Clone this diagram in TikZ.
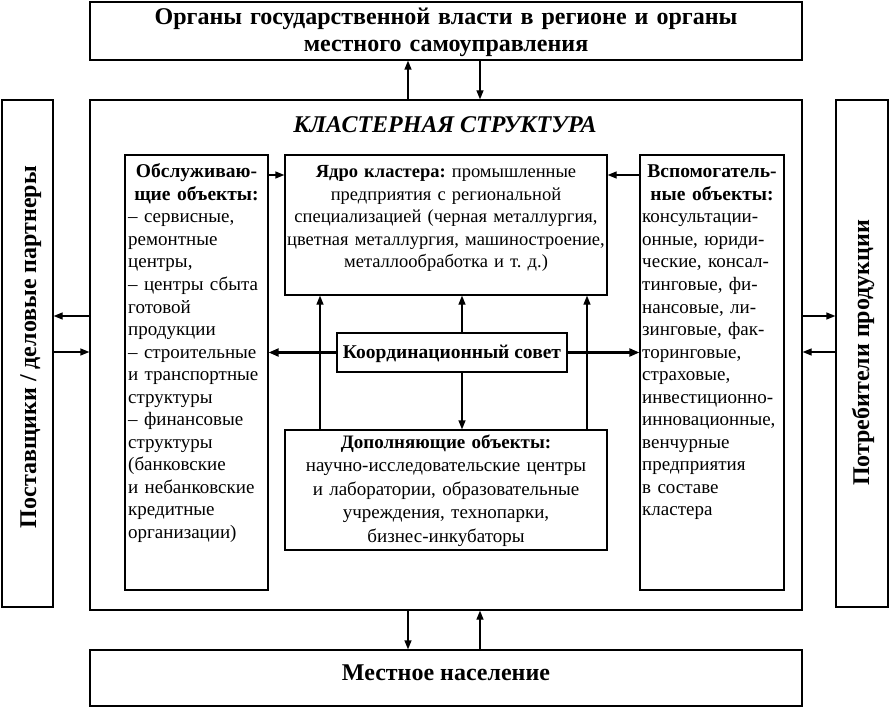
\documentclass[tikz,border=0pt]{standalone}
\usepackage{fontspec}
\setmainfont{Liberation Serif}
\usetikzlibrary{arrows.meta}
\begin{document}
\begin{tikzpicture}[x=1pt,y=-1pt,
  box/.style={draw,line width=1.3pt,inner sep=0pt},
  body/.style={inner sep=0pt,font=\fontsize{19}{22.5}\selectfont},
  head/.style={inner sep=0pt,font=\bfseries\fontsize{19.5}{22.5}\selectfont},
  big/.style={inner sep=0pt,font=\bfseries\fontsize{24}{27}\selectfont},
  arr/.style={line width=1.3pt,-{Triangle[length=9pt,width=7pt]}},
  tarr/.style={line width=2.2pt,-{Triangle[length=10pt,width=8pt]}},
]
\useasboundingbox (0,0) rectangle (890,708);
% boxes
\node[box,minimum width=712pt,minimum height=58pt] (gov) at (446,31) {};
\node[box,minimum width=712pt,minimum height=510pt] (cluster) at (446,355) {};
\node[box,minimum width=51pt,minimum height=507pt] (left) at (27.5,353.5) {};
\node[box,minimum width=52pt,minimum height=507pt] (right) at (862,353.5) {};
\node[box,minimum width=143pt,minimum height=435pt] (serv) at (196.5,372.5) {};
\node[box,minimum width=322pt,minimum height=140pt] (core) at (446,225) {};
\node[box,minimum width=144pt,minimum height=435pt] (aux) at (712,372.5) {};
\node[box,minimum width=230pt,minimum height=39pt] (council) at (452,352.5) {};
\node[box,minimum width=322pt,minimum height=120pt] (compl) at (446,490) {};
\node[box,minimum width=712pt,minimum height=56pt] (pop) at (446,678) {};
% texts
\node[big,text width=700pt,align=center,anchor=base] (govt) at (446,25) {Органы государственной власти в регионе и органы\\местного самоуправления};
\node[big,font=\bfseries\itshape\fontsize{24}{27}\selectfont,anchor=base] (title) at (445,133) {КЛАСТЕРНАЯ СТРУКТУРА};
\node[big,rotate=90,anchor=base] (leftt) at (36,347) {Поставщики / деловые партнеры};
\node[big,rotate=90,anchor=base] (rightt) at (869,353) {Потребители продукции};
\node[big,anchor=base] (popt) at (446,680) {Местное население};
\node[head,anchor=base] (councilt) at (452,358) {Координационный совет};
\node[head,text width=140pt,align=center,anchor=base] (servh) at (196.5,178) {Обслуживаю-\\щие объекты:};
\node[body,text width=140pt,align=left,anchor=base west] (servl) at (128,223) {– сервисные,\\ремонтные\\центры,\\– центры сбыта\\готовой\\продукции\\– строительные\\и транспортные\\структуры\\– финансовые\\структуры\\(банковские\\и небанковские\\кредитные\\организации)};
\node[head,text width=142pt,align=center,anchor=base] (auxh) at (712,178) {Вспомогатель-\\ные объекты:};
\node[body,text width=142pt,align=left,anchor=base west] (auxl) at (642,223) {консультации-\\онные, юриди-\\ческие, консал-\\тинговые, фи-\\нансовые, ли-\\зинговые, фак-\\торинговые,\\страховые,\\инвестиционно-\\инновационные,\\венчурные\\предприятия\\в составе\\кластера};
\node[body,font=\fontsize{18.5}{22.5}\selectfont,text width=340pt,align=center,anchor=base] (coret) at (446,178) {\textbf{Ядро кластера:}~промышленные\\предприятия с региональной\\специализацией (черная металлургия,\\цветная металлургия, машиностроение,\\металлообработка и т.~д.)};
\node[body,font=\fontsize{19}{23.5}\selectfont,text width=340pt,align=center,anchor=base] (complt) at (446,448) {\textbf{Дополняющие объекты:}\\научно-исследовательские центры\\и лаборатории, образовательные\\учреждения, технопарки,\\бизнес-инкубаторы};
% connectors
\draw[arr] (cluster.north -| 408,0) -- (gov.south -| 408,0);
\draw[arr] (gov.south -| 480,0) -- (cluster.north -| 480,0);
\draw[arr] (cluster.south -| 408,0) -- (pop.north -| 408,0);
\draw[arr] (pop.north -| 480,0) -- (cluster.south -| 480,0);
\draw[arr] (cluster.west |- 0,316) -- (left.east |- 0,316);
\draw[arr] (left.east |- 0,352) -- (cluster.west |- 0,352);
\draw[arr] (cluster.east |- 0,316) -- (right.west |- 0,316);
\draw[arr] (right.west |- 0,352) -- (cluster.east |- 0,352);
\draw[arr] (serv.east |- 0,175) -- (core.west |- 0,175);
\draw[arr] (aux.west |- 0,175) -- (core.east |- 0,175);
\draw[arr] (compl.north -| 320,0) -- (core.south -| 320,0);
\draw[arr] (compl.north -| 587,0) -- (core.south -| 587,0);
\draw[arr] (council.north -| 462,0) -- (core.south -| 462,0);
\draw[arr] (council.south -| 462,0) -- (compl.north -| 462,0);
\draw[tarr] (council.west) -- (serv.east |- council.west);
\draw[tarr] (council.east) -- (aux.west |- council.east);
\end{tikzpicture}
\end{document}
